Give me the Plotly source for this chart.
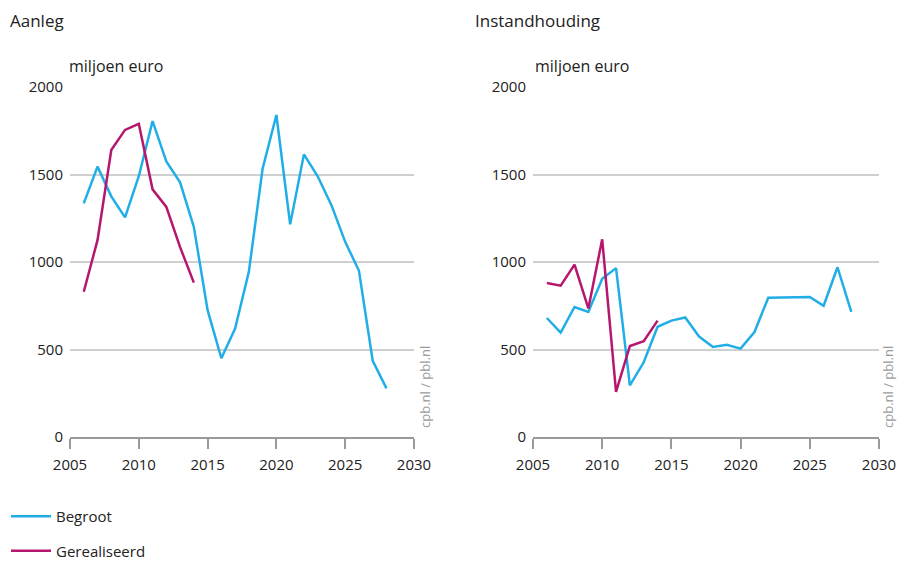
import plotly.graph_objects as go

years_begroot = list(range(2006, 2029))
years_real = list(range(2006, 2015))

aanleg_begroot = [1335, 1545, 1375, 1255, 1490, 1805, 1575, 1455, 1200, 725, 450, 620, 945,
                  1535, 1840, 1215, 1615, 1490, 1325, 1115, 950, 435, 278]
aanleg_real = [830, 1125, 1640, 1755, 1790, 1415, 1315, 1085, 882]

inst_begroot = [680, 597, 743, 715, 904, 965, 295, 427, 630, 665, 683, 574, 515, 527, 505,
                600, 796, 796, 800, 800, 750, 970, 715]
inst_real = [880, 865, 985, 735, 1130, 258, 520, 548, 665]

x_ticks = [2005, 2010, 2015, 2020, 2025, 2030]
y_ticks = [0, 500, 1000, 1500, 2000]

BLUE = "#21AEE6"
MAGENTA = "#B5176F"
FONT = "Open Sans"
TXT = "#222222"

fig = go.Figure()
fig.add_trace(go.Scatter(x=years_begroot, y=aanleg_begroot, mode="lines", name="Begroot",
                         line=dict(color=BLUE, width=2.5), legendgroup="b", xaxis="x", yaxis="y"))
fig.add_trace(go.Scatter(x=years_real, y=aanleg_real, mode="lines", name="Gerealiseerd",
                         line=dict(color=MAGENTA, width=2.5), legendgroup="r", xaxis="x", yaxis="y"))
fig.add_trace(go.Scatter(x=years_begroot, y=inst_begroot, mode="lines", name="Begroot",
                         line=dict(color=BLUE, width=2.5), legendgroup="b", showlegend=False,
                         xaxis="x2", yaxis="y2"))
fig.add_trace(go.Scatter(x=years_real, y=inst_real, mode="lines", name="Gerealiseerd",
                         line=dict(color=MAGENTA, width=2.5), legendgroup="r", showlegend=False,
                         xaxis="x2", yaxis="y2"))

W, H = 898, 567
def px(x): return x / W
def py(y): return 1 - y / H

xax = dict(range=[2005, 2030], tickvals=x_ticks, showgrid=False, showline=True,
           linecolor="#9a9a9a", linewidth=1.5, ticks="outside", ticklen=10, tickwidth=1.5,
           tickcolor="#9a9a9a", tickfont=dict(family=FONT, size=15, color=TXT), zeroline=False,
           fixedrange=True, automargin=False, ticklabelstandoff=3)
yax = dict(range=[0, 2000], tickvals=y_ticks, showgrid=True, gridcolor="#cfcfcf", gridwidth=1.5,
           showline=False, zeroline=False, ticks="", ticklabelstandoff=6,
           tickfont=dict(family=FONT, size=15, color=TXT), fixedrange=True, automargin=False)

fig.update_layout(
    width=W, height=H, margin=dict(l=0, r=0, t=0, b=0, autoexpand=False),
    paper_bgcolor="white", plot_bgcolor="white",
    xaxis=dict(domain=[px(70), px(414)], anchor="y", **xax),
    yaxis=dict(domain=[py(437), py(87)], anchor="x", **yax),
    xaxis2=dict(domain=[px(533), px(879)], anchor="y2", **xax),
    yaxis2=dict(domain=[py(437), py(87)], anchor="x2", **yax),
    showlegend=True,
    legend=dict(x=px(6), y=0,
                xanchor="left", yanchor="bottom", orientation="v",
                font=dict(family=FONT, size=15, color=TXT), tracegroupgap=12,
                itemwidth=40, bgcolor="rgba(0,0,0,0)"),
)

annos = [
    dict(text="Aanleg", x=px(8), y=py(20), size=17, color=TXT),
    dict(text="Instandhouding", x=px(473), y=py(20), size=17, color=TXT),
    dict(text="miljoen euro", x=px(67), y=py(66), size=16, color=TXT),
    dict(text="miljoen euro", x=px(533), y=py(66), size=16, color=TXT),
]
for a in annos:
    fig.add_annotation(text=a["text"], x=a["x"], y=a["y"], xref="paper", yref="paper",
                       xanchor="left", yanchor="middle", showarrow=False,
                       font=dict(family=FONT, size=a["size"], color=a["color"]))
for xx in [425, 888]:
    fig.add_annotation(text="cpb.nl / pbl.nl", x=px(xx), y=py(387), xref="paper", yref="paper",
                       xanchor="center", yanchor="middle", showarrow=False, textangle=-90,
                       font=dict(family=FONT, size=13, color="#9a9a9a"))

fig.write_html("out.html", config={"displayModeBar": False},
               post_script="document.body.style.margin='0';")
